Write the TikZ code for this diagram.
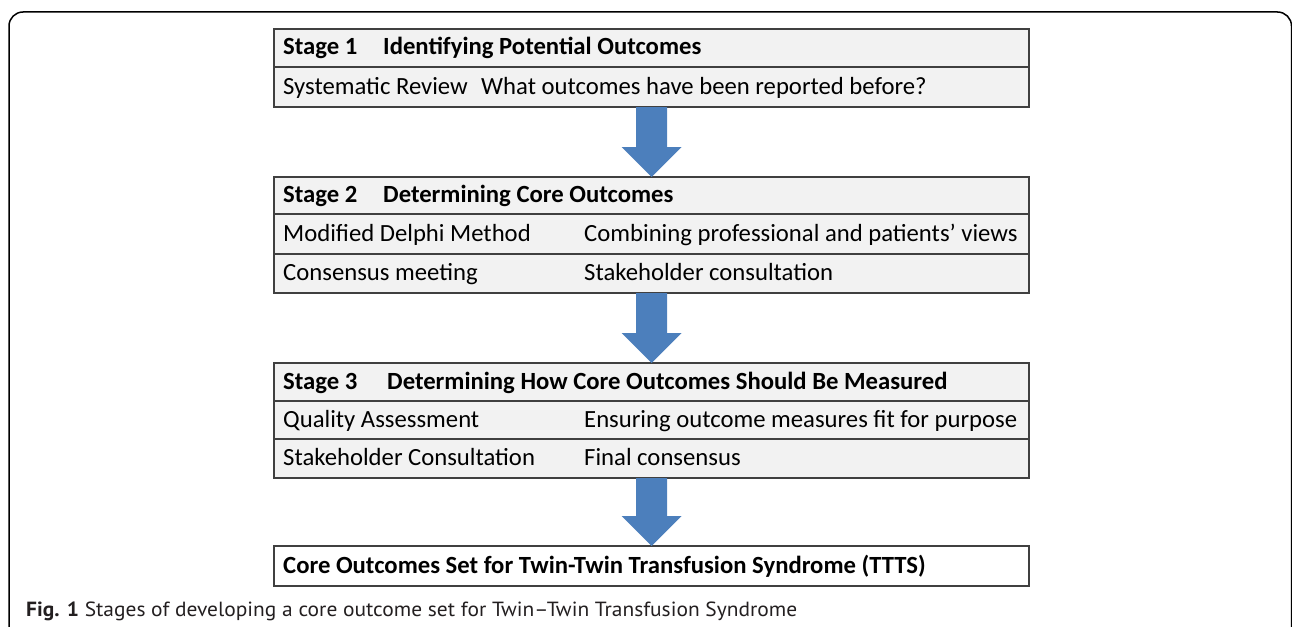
\documentclass[tikz,border=0pt]{standalone}
\usepackage{fontspec}
\usepackage{graphicx}
\setmainfont{Carlito}
\newfontfamily\capfont{PT Sans}
\usetikzlibrary{calc}
\definecolor{boxfill}{RGB}{242,242,242}
\definecolor{boxline}{RGB}{64,64,64}
\definecolor{arrowblue}{RGB}{76,127,188}
\definecolor{captext}{RGB}{35,31,32}
\newcommand\blockarrowfromto[2]{%
  \fill[arrowblue] ($(#1.south)+(-15.5,0)$) -- ($(#1.south)+(15.5,0)$)
    -- ($(#2.north)+(15.5,-30)$) -- ($(#2.north)+(30,-30)$) -- (#2.north)
    -- ($(#2.north)+(-30,-30)$) -- ($(#2.north)+(-15.5,-30)$) -- cycle;}
\tikzset{
  stagebox/.style={draw=boxline, fill=boxfill, line width=1.2pt, minimum width=755pt, inner sep=0pt, outer sep=0pt},
  finalbox/.style={draw=boxline, fill=white, line width=1.2pt, minimum width=755pt, minimum height=40pt, inner sep=0pt, outer sep=0pt},
  divline/.style={draw=boxline, line width=1.2pt},
  txt/.style={anchor=base west, inner sep=0pt, font=\fontsize{24.7}{29}\selectfont, text=black},
  frameline/.style={draw=black, line width=1.5pt, rounded corners=14pt}
}
\begin{document}
\begin{tikzpicture}[x=1pt,y=-1pt]
\useasboundingbox (0,0) rectangle (1292,626);
\begin{scope}
\clip (0,0) rectangle (1292,626);
\draw[frameline] (9,12) rectangle (1291.5,680);
\end{scope}
% boxes
\node[stagebox, minimum height=78pt] (s1) at (651.5,68) {};
\node[stagebox, minimum height=116pt] (s2) at (651.5,235) {};
\node[stagebox, minimum height=115pt] (s3) at (651.5,420.5) {};
\node[finalbox] (fin) at (651.5,566) {};
% dividers
\draw[divline] (s1.west |- 0,67) -- (s1.east |- 0,67);
\draw[divline] (s2.west |- 0,214) -- (s2.east |- 0,214);
\draw[divline] (s2.west |- 0,254) -- (s2.east |- 0,254);
\draw[divline] (s3.west |- 0,401) -- (s3.east |- 0,401);
\draw[divline] (s3.west |- 0,439) -- (s3.east |- 0,439);
% arrows
\blockarrowfromto{s1}{s2}
\blockarrowfromto{s2}{s3}
\blockarrowfromto{s3}{fin}
% texts stage 1
\node[txt] (t1a) at (283,55) {\bfseries Stage 1};
\node[txt] (t1b) at (383,55) {\bfseries Identifying Potential Outcomes};
\node[txt] (t1c) at (283,94) {Systematic Review};
\node[txt] (t1d) at (481,94) {What outcomes have been reported before?};
% stage 2
\node[txt] (t2a) at (283,202.5) {\bfseries Stage 2};
\node[txt] (t2b) at (383,202.5) {\bfseries Determining Core Outcomes};
\node[txt] (t2c) at (283,241) {Modified Delphi Method};
\node[txt] (t2d) at (584,241) {Combining professional and patients’ views};
\node[txt] (t2e) at (283,280.5) {Consensus meeting};
\node[txt] (t2f) at (584,280.5) {Stakeholder consultation};
% stage 3
\node[txt] (t3a) at (283,389) {\bfseries Stage 3};
\node[txt] (t3b) at (387,389) {\bfseries Determining How Core Outcomes Should Be Measured};
\node[txt] (t3c) at (283,427) {Quality Assessment};
\node[txt] (t3d) at (584,427) {Ensuring outcome measures fit for purpose};
\node[txt] (t3e) at (283,465.5) {Stakeholder Consultation};
\node[txt] (t3f) at (584,465.5) {Final consensus};
% final
\node[txt] (tf) at (283,573) {\bfseries Core Outcomes Set for Twin-Twin Transfusion Syndrome (TTTS)};
% caption
\node[anchor=base west, inner sep=0pt, text=captext] (cap) at (26,616) {\resizebox{771pt}{\height}{\capfont\fontsize{20.5}{24}\selectfont\textbf{Fig. 1} Stages of developing a core outcome set for Twin–Twin Transfusion Syndrome}};
\end{tikzpicture}
\end{document}
